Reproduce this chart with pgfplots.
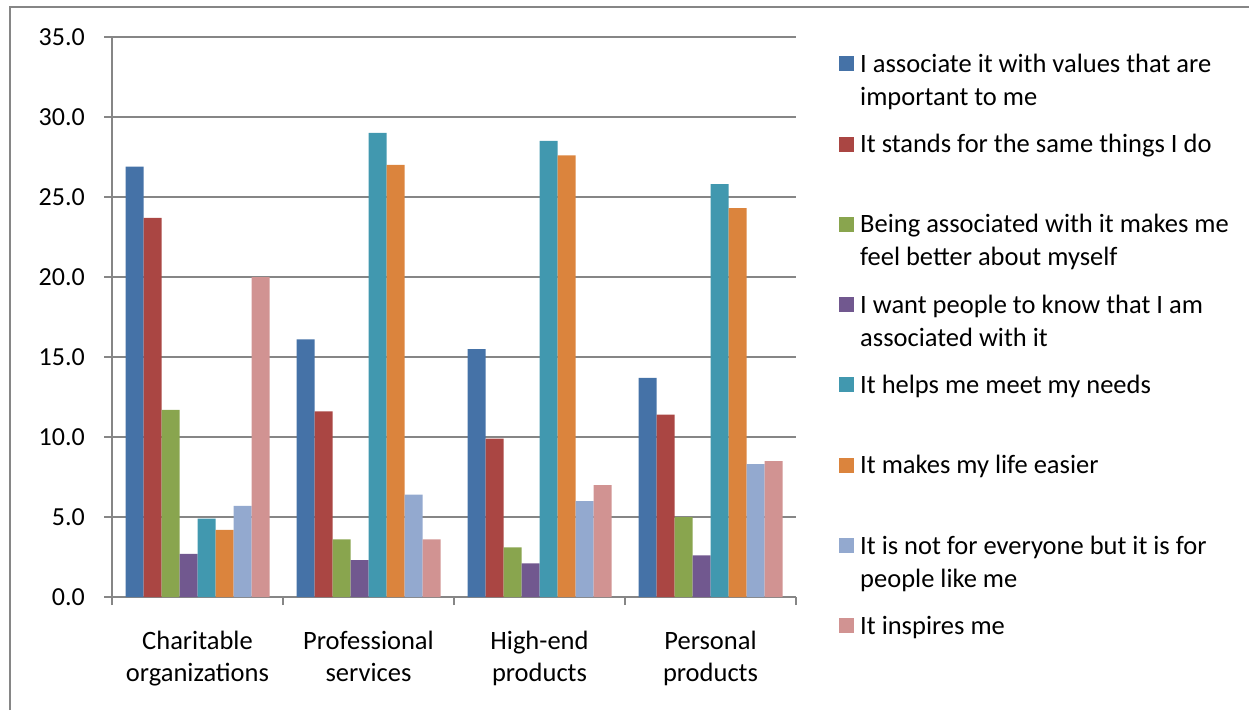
\documentclass[border=0pt]{standalone}
\usepackage{fontspec}
\setmainfont{Carlito}
\usepackage{pgfplots}
\pgfplotsset{compat=1.18}

\definecolor{sA}{RGB}{69,114,167}
\definecolor{sB}{RGB}{170,70,67}
\definecolor{sC}{RGB}{137,165,78}
\definecolor{sD}{RGB}{113,88,143}
\definecolor{sE}{RGB}{65,152,175}
\definecolor{sF}{RGB}{219,132,61}
\definecolor{sG}{RGB}{147,169,207}
\definecolor{sH}{RGB}{209,147,146}
\definecolor{gridgray}{RGB}{134,134,134}
\definecolor{framegray}{RGB}{134,134,134}

\newcommand{\entry}[1]{\parbox[t]{390pt}{\raggedright #1}}

\begin{document}
\begin{tikzpicture}[x=1pt,y=1pt]
\useasboundingbox (0,0) rectangle (1249,710);
% chart frame (left and top edges)
\draw[framegray, line width=1.5pt] (10,0) -- (10,703) -- (1249,703);
\begin{axis}[
  at={(112pt,113pt)}, anchor=south west,
  scale only axis, width=684pt, height=560pt,
  xmin=0.5, xmax=4.5, ymin=0, ymax=35,
  axis x line*=bottom, axis y line*=left,
  axis line style={draw=gridgray, line width=1.5pt},
  ybar=0pt, bar width=18pt,
  ytick={0,5,...,35},
  xtick={0.5,1.5,2.5,3.5,4.5},
  xticklabels={,,,,,},
  extra x ticks={1,2,3,4},
  extra x tick labels={{Charitable\\organizations},{Professional\\services},{High-end\\products},{Personal\\products}},
  extra x tick style={major tick length=0pt},
  tick align=outside, major tick length=8pt,
  tick style={draw=gridgray, line width=1.5pt},
  ymajorgrids, grid style={draw=gridgray, line width=1.5pt},
  /pgf/number format/assume math mode=true,
  y tick label style={/pgf/number format/fixed, /pgf/number format/fixed zerofill, /pgf/number format/precision=1,
    anchor=east, inner sep=0pt, xshift=-19pt, font=\fontsize{26}{31}\selectfont},
  x tick label style={align=center, inner sep=0pt, yshift=-34pt, font=\fontsize{26.5}{32}\selectfont},
  legend image code/.code={\fill[#1] (0pt,21.15pt) rectangle (15pt,36.15pt);},
  legend cell align=left,
  legend style={at={(1.06287,0.97321)}, anchor=north west, draw=none, fill=none,
    inner sep=0pt, row sep=0pt, column sep=6pt,
    font=\fontsize{26.5}{33}\selectfont,
    nodes={inner sep=0pt, text height=20pt, text depth=60.3pt}},
]
\addplot[fill=sA, draw=none] coordinates {(1,26.9) (2,16.1) (3,15.5) (4,13.7)};
\addlegendentry{\entry{I associate it with values that are\\important to me}}
\addplot[fill=sB, draw=none] coordinates {(1,23.7) (2,11.6) (3,9.9) (4,11.4)};
\addlegendentry{\entry{It stands for the same things I do}}
\addplot[fill=sC, draw=none] coordinates {(1,11.7) (2,3.6) (3,3.1) (4,5.0)};
\addlegendentry{\entry{Being associated with it makes me\\feel better about myself}}
\addplot[fill=sD, draw=none] coordinates {(1,2.7) (2,2.3) (3,2.1) (4,2.6)};
\addlegendentry{\entry{I want people to know that I am\\associated with it}}
\addplot[fill=sE, draw=none] coordinates {(1,4.9) (2,29.0) (3,28.5) (4,25.8)};
\addlegendentry{\entry{It helps me meet my needs}}
\addplot[fill=sF, draw=none] coordinates {(1,4.2) (2,27.0) (3,27.6) (4,24.3)};
\addlegendentry{\entry{It makes my life easier}}
\addplot[fill=sG, draw=none] coordinates {(1,5.7) (2,6.4) (3,6.0) (4,8.3)};
\addlegendentry{\entry{It is not for everyone but it is for\\people like me}}
\addplot[fill=sH, draw=none] coordinates {(1,20.0) (2,3.6) (3,7.0) (4,8.5)};
\addlegendentry{\entry{It inspires me}}
\end{axis}
\end{tikzpicture}
\end{document}
